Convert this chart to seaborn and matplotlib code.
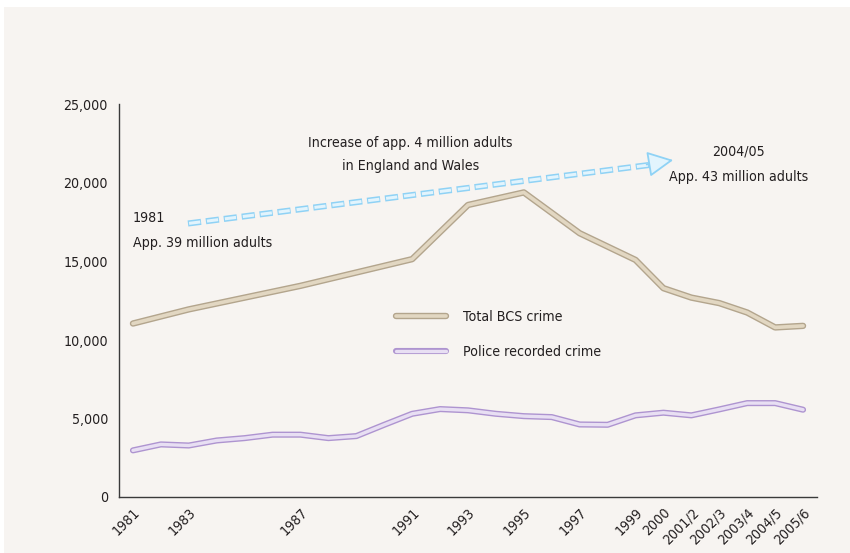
import numpy as np
import pandas as pd
import matplotlib
matplotlib.use('Agg')
import matplotlib.pyplot as plt
import matplotlib.patheffects as pe
from matplotlib.patches import Rectangle
from matplotlib.ticker import FixedLocator, FuncFormatter
import seaborn as sns

sns.set_style('white')
plt.rcParams['font.family'] = ['DejaVu Sans']
plt.rcParams['font.stretch'] = 'condensed'
plt.rcParams['lines.scale_dashes'] = False

# x categories (one per year / financial year)
years = ['1981', '1982', '1983', '1984', '1985', '1986', '1987', '1988', '1989',
         '1990', '1991', '1992', '1993', '1994', '1995', '1996', '1997', '1998',
         '1999', '2000', '2001/2', '2002/3', '2003/4', '2004/5', '2005/6']

# police recorded crime, thousands
police = [2970, 3350, 3280, 3600, 3750, 3970, 3970, 3750, 3880, 4600, 5300, 5600,
          5520, 5300, 5150, 5090, 4620, 4600, 5200, 5370, 5200, 5580, 5980, 5980, 5560]

# BCS survey years only
bcs_years = ['1981', '1983', '1987', '1991', '1993', '1995', '1997', '1999', '2000',
             '2001/2', '2002/3', '2003/4', '2004/5', '2005/6']
bcs = [11050, 11950, 13450, 15150, 18600, 19400, 16800, 15100, 13300, 12700,
       12350, 11750, 10800, 10900]

bg = '#f7f4f1'
ink = '#231f20'

police_df = pd.DataFrame({'pos': np.arange(len(years)), 'value': police})
bcs_df = pd.DataFrame({'pos': [years.index(y) for y in bcs_years], 'value': bcs})

fig = plt.figure(figsize=(8.5, 5.53), dpi=100, facecolor='white')
fig.patches.append(Rectangle((4 / 850, 0), 1, 1 - 7 / 553, transform=fig.transFigure,
                             facecolor=bg, edgecolor='none', zorder=-10))
ax = fig.add_axes([119 / 850, 1 - 497 / 553, (817 - 119) / 850, (497 - 104.5) / 553])
ax.set_facecolor(bg)

sns.lineplot(data=bcs_df, x='pos', y='value', ax=ax, color='#e2d7c2', lw=2.6,
             label='Total BCS crime')
ax.lines[-1].set_path_effects([pe.Stroke(linewidth=4.6, foreground='#b3a58d'), pe.Normal()])
ax.lines[-1].set_solid_capstyle('round')

sns.lineplot(data=police_df, x='pos', y='value', ax=ax, color='#e8dff3', lw=2.4,
             label='Police recorded crime')
ax.lines[-1].set_path_effects([pe.Stroke(linewidth=4.4, foreground='#ae94d0'), pe.Normal()])
ax.lines[-1].set_solid_capstyle('round')

# dashed arrow: population increase
arr_x = [1.97, 18.5]
arr_y = [17420, 21150]
ax.plot(arr_x, arr_y, color='#8fd2f5', lw=4.4, dashes=(9.5, 3.5), dash_capstyle='butt', zorder=3)
ax.plot(arr_x, arr_y, color='#e2f4fd', lw=2.2, linestyle=(12.2, (8.1, 4.9)),
        dash_capstyle='butt', zorder=3)
ax.annotate('', xy=(19.35, 21460), xytext=(18.4, 21180),
            arrowprops=dict(arrowstyle='-|>,head_length=1.6,head_width=0.8',
                            fc='#e2f4fd', ec='#8fd2f5', lw=1.3, shrinkA=0, shrinkB=0),
            zorder=4)

fs = 10.2
ax.text(9.93, 22560, 'Increase of app. 4 million adults', ha='center', va='center',
        fontsize=fs, color=ink)
ax.text(9.93, 21080, 'in England and Wales', ha='center', va='center', fontsize=fs, color=ink)
ax.text(0, 17760, '1981', ha='left', va='center', fontsize=fs, color=ink)
ax.text(0, 16190, 'App. 39 million adults', ha='left', va='center', fontsize=fs, color=ink)
ax.text(21.68, 21990, '2004/05', ha='center', va='center', fontsize=fs, color=ink)
ax.text(21.68, 20400, 'App. 43 million adults', ha='center', va='center', fontsize=fs, color=ink)

ax.set_xlim(-0.5, len(years) - 0.5)
ax.set_ylim(0, 25000)
ax.set_xlabel('')
ax.set_ylabel('')

ax.xaxis.set_major_locator(FixedLocator(bcs_df['pos'].tolist()))
ax.set_xticklabels(bcs_years, rotation=45, ha='right', va='top', rotation_mode='anchor',
                   fontsize=fs, color=ink)
ax.xaxis.set_minor_locator(FixedLocator(np.arange(len(years) + 1) - 0.5))
ax.tick_params(axis='x', which='major', length=0, pad=6)
ax.tick_params(axis='x', which='minor', direction='in', length=5.5, width=0.8, color='#555555')

ax.set_yticks(np.arange(0, 25001, 5000))
ax.yaxis.set_major_formatter(FuncFormatter(lambda v, p: f'{v:,.0f}'))
ax.tick_params(axis='y', direction='in', length=5, width=0.8, color='#555555', pad=8,
               labelsize=fs, labelcolor=ink)

for side in ['top', 'right']:
    ax.spines[side].set_visible(False)
for side in ['left', 'bottom']:
    ax.spines[side].set_color('#3a3a3a')
    ax.spines[side].set_linewidth(1.0)

leg = ax.legend(loc='center left', bbox_to_anchor=(396 / 850, 1 - 334.3 / 553),
                bbox_transform=fig.transFigure, frameon=False, fontsize=fs,
                handlelength=3.5, handletextpad=1.2, labelspacing=1.45, borderpad=0,
                borderaxespad=0)
for t in leg.get_texts():
    t.set_color(ink)
for h in leg.get_lines():
    h.set_solid_capstyle('round')

plt.savefig('out.png', dpi=100, facecolor=fig.get_facecolor())
